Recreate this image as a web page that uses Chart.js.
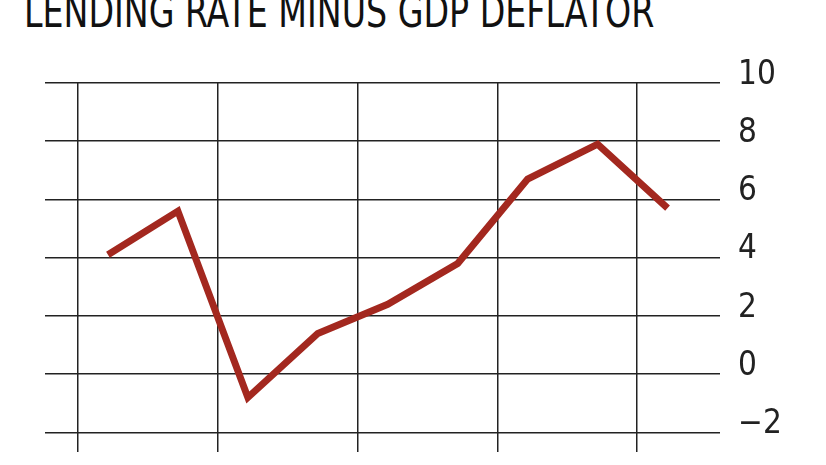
<!DOCTYPE html>
<html><head><meta charset="utf-8">
<script src="https://cdn.jsdelivr.net/npm/chart.js@4"></script>
<style>
html,body{margin:0;padding:0;width:826px;height:465px;overflow:hidden;background:#fff;}
#t{position:absolute;left:24px;top:-14px;font-family:"DejaVu Sans Condensed","DejaVu Sans";font-size:44px;color:#111;white-space:nowrap;transform-origin:0 0;transform:scaleX(0.84);letter-spacing:0px;}
#w{position:absolute;left:0;top:0;width:826px;height:490px;}
</style></head><body>
<div id="t">LENDING RATE MINUS GDP DEFLATOR</div>
<div id="w"><canvas id="c" width="826" height="490"></canvas></div>
<script>
const xIndex=[0,1,2,3,4,5,6,7,8];
const values=[4.1,5.6,-0.8,1.4,2.4,3.8,6.7,7.9,5.7];
const xGrid=[-0.43,1.57,3.57,5.57,7.56];
const yTicks=[-2,0,2,4,6,8,10];
new Chart(document.getElementById('c'),{
type:'line',
data:{datasets:[{data:xIndex.map((x,i)=>({x:x,y:values[i]})),borderColor:'#a3281f',borderWidth:7,pointRadius:0,tension:0,borderJoinStyle:'miter'}]},
options:{responsive:false,animation:false,
layout:{padding:{left:45,top:83,right:0,bottom:0}},
plugins:{legend:{display:false},tooltip:{enabled:false}},
scales:{
x:{type:'linear',min:-0.9,max:8.75,afterBuildTicks:s=>{s.ticks=xGrid.map(v=>({value:v}));},
 ticks:{display:false},grid:{color:'#222',lineWidth:1.5,drawTicks:false},border:{display:false}},
y:{position:'right',min:-2.68,max:10,afterBuildTicks:s=>{s.ticks=yTicks.map(v=>({value:v}));},
 afterFit:s=>{s.width=106;},
 ticks:{color:'#222',font:{family:'DejaVu Sans Condensed',size:33},padding:18,labelOffset:-8,callback:v=>v<0?'\u2212'+Math.abs(v):String(v)},
 grid:{color:'#222',lineWidth:1.5,drawTicks:false},border:{display:false}}
}}});
</script></body></html>
